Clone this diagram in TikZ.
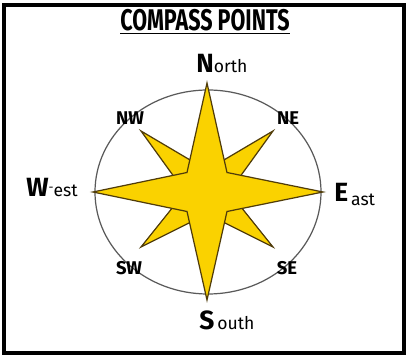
\documentclass[tikz,border=0pt]{standalone}
\usepackage{fontspec}
\setmainfont{Fira Sans}
\definecolor{staryellow}{RGB}{250,210,0}
\definecolor{starline}{RGB}{80,60,10}
\definecolor{ringgray}{RGB}{90,90,90}
\begin{document}
\begin{tikzpicture}[x=0.02cm,y=-0.02cm,
  starfill/.style={fill=staryellow,draw=starline,line width=0.7pt,line join=miter},
  interlabel/.style={font=\fontsize{10.5}{10.5}\selectfont\bfseries}]
\useasboundingbox (0,0) rectangle (410,361);
\draw[line width=2.3pt] (4,5) rectangle (404,353);
% title
\node[inner sep=0pt] (title) at (205,22) {\scalebox{0.72}[1]{\fontsize{17}{17}\selectfont\bfseries\underline{COMPASS POINTS}}};
% ring
\draw[ringgray,line width=0.7pt] (208,192) ellipse [x radius=113, y radius=102];
% diagonal star
\filldraw[starfill] (207,170) -- (273,131) -- (229,192) -- (273,247) -- (207,214) -- (141,247) -- (185,192) -- (141,131) -- cycle;
% main star
\filldraw[starfill] (207,83) -- (227,172.5) -- (323,192) -- (227,211.5) -- (207,300) -- (187,211.5) -- (93,192) -- (187,172.5) -- cycle;
% labels
\node[inner sep=0pt,anchor=base west] (n) at (196,73) {\textbf{\fontsize{15}{15}\selectfont N}\fontsize{10}{10}\selectfont orth};
\node[inner sep=0pt,anchor=base west] (s) at (199,330) {\textbf{\fontsize{15}{15}\selectfont S}\,\fontsize{10}{10}\selectfont outh};
\node[inner sep=0pt,anchor=base west] (e) at (334,202) {\textbf{\fontsize{15}{15}\selectfont E}\,\raisebox{-2pt}{\fontsize{10}{10}\selectfont ast}};
\node[inner sep=0pt,anchor=base west] (w) at (26,197) {\textbf{\fontsize{15}{15}\selectfont W}\raisebox{3pt}{\fontsize{7}{7}\selectfont -}\fontsize{10}{10}\selectfont est};
\node[interlabel] (nw) at (130,118) {NW};
\node[interlabel] (ne) at (288,118) {NE};
\node[interlabel] (sw) at (129,268) {SW};
\node[interlabel] (se) at (287,268) {SE};
\end{tikzpicture}
\end{document}
